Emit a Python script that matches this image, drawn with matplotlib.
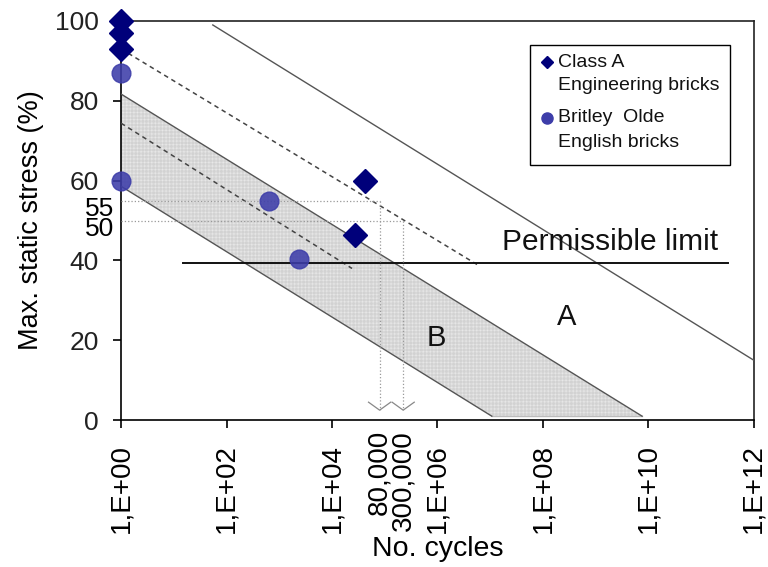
import numpy as np
import matplotlib.pyplot as plt
from matplotlib.patches import Rectangle
from matplotlib.transforms import ScaledTranslation

plt.rcParams['font.family'] = ['Liberation Sans', 'DejaVu Sans']

# data (cycles, max static stress %)
class_a_cycles = [1, 1, 1, 43000, 27500]
class_a_stress = [100, 97, 93, 60, 46.5]
britley_cycles = [1, 1, 650, 2400]
britley_stress = [87, 60, 55, 40.3]

# trend lines (two end points each)
line_a_cycles = [10**1.74, 1e12]
line_a_stress = [99.0, 15.0]
dash_a_cycles = [1, 10**6.75]
dash_a_stress = [93, 39]
band_top_cycles = [1, 10**9.88]
band_top_stress = [81.7, 1]
band_bot_cycles = [1, 10**7.03]
band_bot_stress = [58.6, 1]
dash_b_cycles = [1, 10**4.38]
dash_b_stress = [74.4, 38]
limit_cycles = [15, 3.2e11]
limit_stress = 39.3

# guide lines
guide_stress = [55, 50]
guide_cycles = [80000, 10**5.35]
guide_labels = ['80,000', '300,000']

xticks = [1e0, 1e2, 1e4, 1e6, 1e8, 1e10, 1e12]
xtick_labels = ['1,E+00', '1,E+02', '1,E+04', '1,E+06', '1,E+08', '1,E+10', '1,E+12']
yticks = [0, 20, 40, 60, 80, 100]

fig = plt.figure(figsize=(7.68, 5.67), dpi=100)
ax = fig.add_axes([0.1576, 0.259, 0.824, 0.704])
ax.set_xscale('log')
ax.set_xlim(1, 1e12)
ax.set_ylim(0, 100)

# shaded band B
xs = np.array([1, band_bot_cycles[1], band_top_cycles[1], 1])
ys = np.array([band_bot_stress[0], band_bot_stress[1], band_top_stress[1], band_top_stress[0]])
plt.rcParams['hatch.linewidth'] = 0.4
ax.fill(xs, ys, facecolor='#f3f3f3', edgecolor='#d2d2d2', hatch='+' * 12, lw=0, zorder=1)
ax.plot([band_bot_cycles[1], band_top_cycles[1]], [1, 1], color='#bbbbbb', lw=1, zorder=2)

ax.plot(line_a_cycles, line_a_stress, color='#555555', lw=1, zorder=3)
ax.plot(band_top_cycles, band_top_stress, color='#555555', lw=1, zorder=3)
ax.plot(band_bot_cycles, band_bot_stress, color='#555555', lw=1, zorder=3)
ax.plot(dash_a_cycles, dash_a_stress, color='#444444', lw=1.1, ls=(0, (3, 2.5)), zorder=3)
ax.plot(dash_b_cycles, dash_b_stress, color='#444444', lw=1.1, ls=(0, (3, 2.5)), zorder=3)
ax.plot(limit_cycles, [limit_stress] * 2, color='#111111', lw=1.4, zorder=3)

# dotted guides with open arrow heads
for s, c in zip(guide_stress, guide_cycles):
    ax.plot([1, c], [s, s], color='#999999', lw=0.9, ls=':', zorder=3)
    ax.plot([c, c], [s, 2.5], color='#999999', lw=0.9, ls=':', zorder=3)
    k = 10**0.21
    ax.plot([c / k, c, c * k], [4.5, 2.5, 4.5], color='#888888', lw=0.9, zorder=3)

ax.plot(class_a_cycles, class_a_stress, 'D', color='#00007a', ms=12, mec='#00007a',
        clip_on=False, zorder=5)
ax.plot(britley_cycles, britley_stress, 'o', color='#3d3da9', ms=13.5, alpha=0.88,
        mec='#3d3da9', clip_on=False, zorder=5)

ax.text(10**7.22, 44.6, 'Permissible limit', fontsize=21.5, ha='left', va='center', color='#111111')
ax.text(10**8.45, 25.8, 'A', fontsize=21, ha='center', va='center', color='#111111')
ax.text(10**5.97, 20.5, 'B', fontsize=21, ha='center', va='center', color='#111111')

# legend box drawn by hand so the markers sit on the first line
ax.add_patch(Rectangle((0.646, 0.639), 0.316, 0.301, transform=ax.transAxes,
                       facecolor='white', edgecolor='black', lw=1.0, zorder=6))
ax.plot([0.673], [0.897], 'D', color='#00007a', ms=6.5, transform=ax.transAxes, zorder=7)
ax.plot([0.673], [0.757], 'o', color='#3d3da9', ms=8, transform=ax.transAxes, zorder=7)
legend_lines = ['Class A', 'Engineering bricks', 'Britley  Olde', 'English bricks']
for t, yy in zip(legend_lines, [0.897, 0.838, 0.757, 0.695]):
    ax.text(0.69, yy, t, transform=ax.transAxes, fontsize=14, ha='left', va='center',
            color='#111111', zorder=7)

ax.set_xticks(xticks)
ax.set_xticklabels(xtick_labels, rotation=90, fontsize=20)
ax.set_xticks(guide_cycles, minor=True)
ax.set_xticklabels(guide_labels, minor=True, rotation=90, fontsize=20)
ax.tick_params(axis='x', which='minor', length=0, pad=7)
ax.tick_params(axis='x', which='major', pad=11)
ax.set_yticks(yticks)
ax.set_yticklabels([str(v) for v in yticks], fontsize=19, color='#222222')
ax.set_yticks(guide_stress, minor=True)
ax.set_yticklabels([str(v) for v in guide_stress], minor=True, fontsize=19)
ax.tick_params(axis='y', which='minor', length=0, pad=5)
ax.tick_params(axis='y', which='major', pad=10)
for lab in ax.get_yticklabels(minor=True):
    lab.set_transform(lab.get_transform() + ScaledTranslation(0, -0.06, fig.dpi_scale_trans))
ax.tick_params(axis='both', which='major', length=6, width=1.2, direction='out')
ax.tick_params(top=False, right=False)
ax.set_xlabel('No. cycles', fontsize=20.5, labelpad=2)
ax.set_ylabel('Max. static stress (%)', fontsize=19.5, labelpad=8)
for sp in ax.spines.values():
    sp.set_linewidth(1.2)
ax.spines['top'].set_color('#222222')
ax.spines['right'].set_color('#222222')

fig.savefig('out.png', dpi=100)
